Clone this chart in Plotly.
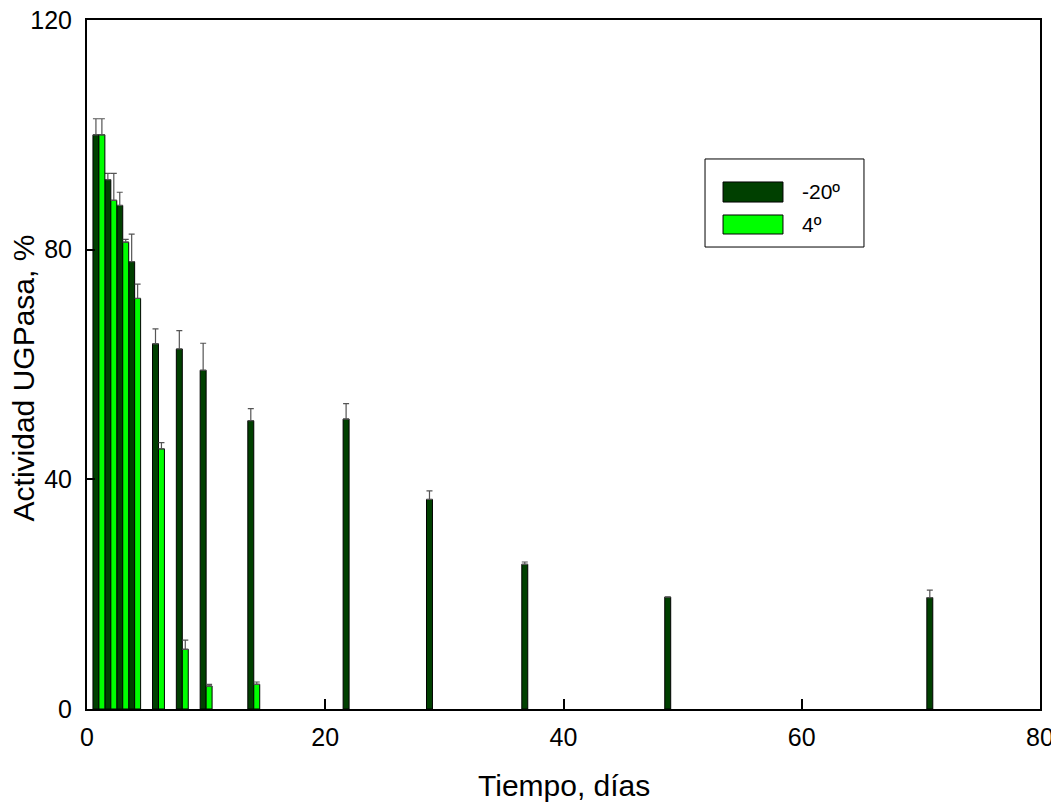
import plotly.graph_objects as go

# Data
dias_m20 = [1, 2, 3, 4, 6, 8, 10, 14, 22, 29, 37, 49, 71]
act_m20 = [100, 92.2, 87.7, 77.9, 63.6, 62.7, 59.0, 50.2, 50.5, 36.5, 25.2, 19.5, 19.4]
err_m20 = [2.8, 1.1, 2.3, 4.8, 2.6, 3.2, 4.7, 2.1, 2.7, 1.5, 0.4, 0, 1.3]

dias_4 = [1, 2, 3, 4, 6, 8, 10, 14]
act_4 = [100, 88.6, 81.3, 71.5, 45.3, 10.4, 4.0, 4.3]
err_4 = [2.8, 4.7, 0.5, 2.5, 1.1, 1.6, 0.3, 0.4]

x_ticks = [0, 20, 40, 60, 80]
y_ticks = [0, 40, 80, 120]

dark = "#004000"
light = "#00ff00"
font = "Liberation Sans, Arial, sans-serif"

fig = go.Figure()

fig.add_trace(go.Bar(
    x=dias_m20, y=act_m20, name="-20º",
    width=0.5, offset=-0.5,
    marker=dict(color=dark, line=dict(color="black", width=1)),
    error_y=dict(type="data", array=err_m20, symmetric=False,
                 arrayminus=[0] * len(err_m20),
                 color="#555555", thickness=1.2, width=3),
))
fig.add_trace(go.Bar(
    x=dias_4, y=act_4, name="4º",
    width=0.5, offset=0,
    marker=dict(color=light, line=dict(color="black", width=1)),
    error_y=dict(type="data", array=err_4, symmetric=False,
                 arrayminus=[0] * len(err_4),
                 color="#555555", thickness=1.2, width=3),
))

# hand-made legend box (big swatches like the original)
shapes = [
    dict(type="rect", xref="paper", yref="paper", x0=0.6485, x1=0.8153,
         y0=0.6705, y1=0.7983, line=dict(color="black", width=1), fillcolor="white"),
    dict(type="rect", xref="paper", yref="paper", x0=0.6674, x1=0.7303,
         y0=0.7358, y1=0.7649, line=dict(color="black", width=1), fillcolor=dark),
    dict(type="rect", xref="paper", yref="paper", x0=0.6674, x1=0.7303,
         y0=0.6894, y1=0.7170, line=dict(color="black", width=1), fillcolor=light),
]

annotations = [
    dict(text="-20º", xref="paper", yref="paper", x=0.7482, y=0.7504,
         xanchor="left", yanchor="middle", showarrow=False,
         font=dict(family=font, size=21, color="black")),
    dict(text="4º", xref="paper", yref="paper", x=0.7482, y=0.7025,
         xanchor="left", yanchor="middle", showarrow=False,
         font=dict(family=font, size=21, color="black")),
    dict(text="Tiempo, días", xref="paper", yref="paper", x=0.5, y=-0.138,
         xanchor="center", yanchor="bottom", showarrow=False,
         font=dict(family=font, size=30, color="black")),
    dict(text="Actividad UGPasa, %", xref="paper", yref="paper", x=-0.067, y=0.48,
         xanchor="center", yanchor="middle", showarrow=False, textangle=-90,
         font=dict(family=font, size=30, color="black")),
]

# page body has an 8px margin, so the figure is sized to fit the window
fig.update_layout(
    width=1043, height=796,
    margin=dict(l=79, r=11, t=12, b=95),
    plot_bgcolor="white", paper_bgcolor="white",
    showlegend=False,
    barmode="overlay",
    font=dict(family=font, size=25, color="black"),
    shapes=shapes,
    annotations=annotations,
)

fig.update_xaxes(
    range=[0, 80], tickvals=x_ticks, ticks="inside", ticklen=10, tickwidth=2,
    tickcolor="black", showline=True, linecolor="black", linewidth=2,
    mirror=True, showgrid=False, zeroline=False, ticklabeloverflow="allow",
    ticklabelstandoff=5, automargin=False, tickfont=dict(family=font, size=25),
)
fig.update_yaxes(
    range=[0, 120], tickvals=y_ticks, ticks="inside", ticklen=8, tickwidth=2,
    tickcolor="black", showline=True, linecolor="black", linewidth=2,
    mirror=True, showgrid=False, zeroline=False, ticklabeloverflow="allow",
    ticklabelstandoff=8, automargin=False, tickfont=dict(family=font, size=25),
)

fig.write_html("out.html")
